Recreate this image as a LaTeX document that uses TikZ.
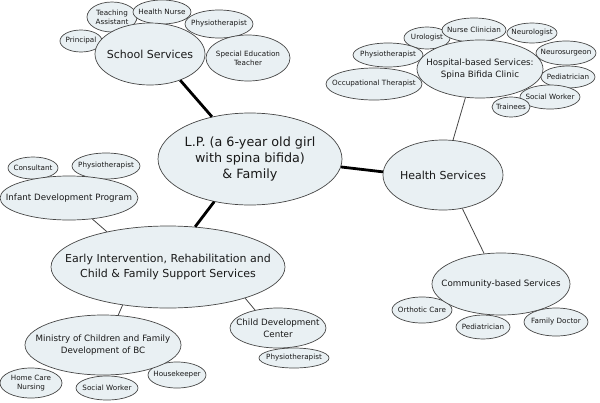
\documentclass[tikz,border=0pt]{standalone}
\usepackage{fontspec}
\setmainfont{DejaVu Sans}
\usetikzlibrary{shapes.geometric}
\definecolor{bubble}{RGB}{233,240,243}
\definecolor{rim}{RGB}{70,70,70}
\definecolor{ink}{RGB}{25,25,25}

\begin{document}
\begin{tikzpicture}[x=1pt,y=-1pt,
    bub/.style 2 args={ellipse,draw=rim,fill=bubble,line width=0.7pt,inner sep=0pt,
                       minimum width=#1pt,minimum height=#2pt},
    leaf/.style={label={[align=center,text=ink,font=\fontsize{7.2}{9}\selectfont]center:{#1}}},
    mid/.style={label={[align=center,text=ink,font=\fontsize{8.7}{12}\selectfont]center:{#1}}},
    hub/.style={label={[align=center,text=ink,font=\fontsize{11}{14.5}\selectfont]center:{#1}}},
    main node/.style={label={[align=center,text=ink,font=\fontsize{12.75}{16}\selectfont]center:{#1}}},
    thin link/.style={draw=rim,line width=0.8pt},
    thick link/.style={draw=black,line width=2.8pt}]

  \useasboundingbox (0,0) rectangle (600,402);

  % school
  \node[bub={50}{30},leaf={Teaching\\Assistant}] (ta) at (112,17) {};
  \node[bub={58}{24},leaf={Health Nurse}] (hn) at (162,12) {};
  \node[bub={68}{28},leaf={Physiotherapist}] (sp) at (219,24) {};
  \node[bub={84}{46},leaf={Special Education\\Teacher}] (set) at (248,58) {};
  \node[bub={42}{22},leaf={Principal}] (pr) at (81,41) {};
  \node[bub={110}{62},hub={School Services}] (school) at (150,54) {};

  % hospital
  \node[bub={46}{22},leaf={Urologist}] (uro) at (427,38) {};
  \node[bub={64}{24},leaf={Nurse Clinician}] (nc) at (474,30) {};
  \node[bub={50}{20},leaf={Neurologist}] (neu) at (532,33) {};
  \node[bub={60}{24},leaf={Neurosurgeon}] (ns) at (566,53) {};
  \node[bub={54}{22},leaf={Pediatrician}] (hped) at (568,77) {};
  \node[bub={60}{24},leaf={Social Worker}] (hsw) at (550,97) {};
  \node[bub={38}{20},leaf={Trainees}] (tr) at (511,107) {};
  \node[bub={70}{24},leaf={Physiotherapist}] (hpt) at (388,55) {};
  \node[bub={96}{32},leaf={Occupational Therapist}] (ot) at (374,84) {};
  \node[bub={126}{58},mid={Hospital-based Services:\\Spina Bifida Clinic}] (hosp) at (480,69) {};

  % community
  \node[bub={60}{26},leaf={Orthotic Care}] (oc) at (422,310) {};
  \node[bub={54}{24},leaf={Pediatrician}] (cped) at (483,327) {};
  \node[bub={64}{28},leaf={Family Doctor}] (fd) at (556,322) {};
  \node[bub={138}{62},mid={Community-based Services}] (comm) at (501,284) {};

  \node[bub={120}{70},hub={Health Services}] (health) at (443,175) {};

  % early intervention
  \node[bub={50}{22},leaf={Consultant}] (con) at (33,168) {};
  \node[bub={68}{26},leaf={Physiotherapist}] (ipt) at (106,166) {};
  \node[bub={138}{44},mid={Infant Development Program}] (infant) at (69,198) {};
  \node[bub={62}{30},leaf={Home Care\\Nursing}] (hcn) at (31,383) {};
  \node[bub={62}{24},leaf={Social Worker}] (msw) at (107,388) {};
  \node[bub={58}{26},leaf={Housekeeper}] (hk) at (177,375) {};
  \node[bub={156}{60},mid={Ministry of Children and Family\\Development of BC}] (min) at (103,345) {};
  \node[bub={70}{20},leaf={Physiotherapist}] (cpt) at (294,358) {};
  \node[bub={96}{40},mid={Child Development\\Center}] (cdc) at (278,328) {};
  \node[bub={234}{82},hub={Early Intervention, Rehabilitation and\\Child \& Family Support Services}] (early) at (168,267) {};

  \node[bub={184}{92},main node={L.P. (a 6-year old girl\\with spina bifida)\\\& Family}] (lp) at (250,159) {};

\path[thick link]
     (lp.132) edge (school.319)
     (lp.355) edge (health.177)
     (lp.230) edge (early.56);

\path[thin link]
     (health.74) edge (hosp.243)
     (health.300) edge (comm.119)
     (early.150) edge (infant.318)
     (early.220) edge (min.63)
     (early.338) edge (cdc.142);

\end{tikzpicture}
\end{document}
